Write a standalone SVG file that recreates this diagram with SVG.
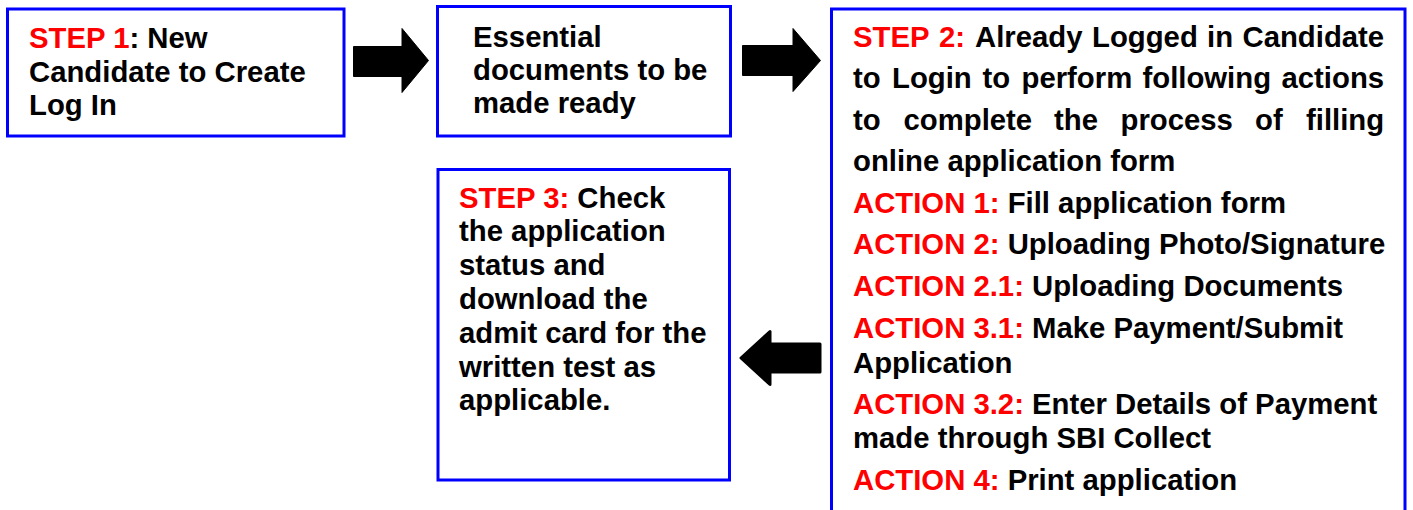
<svg xmlns="http://www.w3.org/2000/svg" width="1413" height="510" viewBox="0 0 1413 510">
<style>
.box{fill:#fff;stroke:#0000ff;stroke-width:3}
text{font-family:"Liberation Sans",Arial,sans-serif;font-weight:bold;font-size:29.3px;fill:#000}
.r{fill:#ff0000}
.arr{fill:#000;stroke:#000;stroke-width:1}
</style>
<rect width="1413" height="510" fill="#fff"/>
<g id="step1">
<rect class="box" x="7.5" y="9" width="336.5" height="127"/>
<text x="29" y="48"><tspan class="r">STEP 1</tspan>: New</text>
<text x="29" y="82">Candidate to Create</text>
<text x="29" y="115">Log In</text>
</g>
<g id="docs">
<rect class="box" x="437.5" y="6.5" width="293" height="129.5"/>
<text x="473" y="47">Essential</text>
<text x="473" y="80">documents to be</text>
<text x="473" y="113">made ready</text>
</g>
<g id="step2">
<rect class="box" x="831.5" y="9" width="573.5" height="520"/>
<text y="46.5"><tspan class="r" x="853">STEP</tspan><tspan class="r" x="939">2:</tspan><tspan x="975">Already</tspan><tspan x="1092">Logged</tspan><tspan x="1207">in</tspan><tspan x="1242.5">Candidate</tspan></text>
<text y="88"><tspan x="853">to</tspan><tspan x="892">Login</tspan><tspan x="982.5">to</tspan><tspan x="1021.5">perform</tspan><tspan x="1142.5">following</tspan><tspan x="1281.5">actions</tspan></text>
<text y="129.5"><tspan x="853">to</tspan><tspan x="903.5">complete</tspan><tspan x="1054">the</tspan><tspan x="1120.5">process</tspan><tspan x="1255">of</tspan><tspan x="1306">filling</tspan></text>
<text x="853" y="171">online application form</text>
<text x="853" y="212.5"><tspan class="r">ACTION 1:</tspan> Fill application form</text>
<text x="853" y="254"><tspan class="r">ACTION 2:</tspan> Uploading Photo/Signature</text>
<text x="853" y="296"><tspan class="r">ACTION 2.1:</tspan> Uploading Documents</text>
<text x="853" y="338"><tspan class="r">ACTION 3.1:</tspan> Make Payment/Submit</text>
<text x="853" y="373">Application</text>
<text x="853" y="414"><tspan class="r">ACTION 3.2:</tspan> Enter Details of Payment</text>
<text x="853" y="448">made through SBI Collect</text>
<text x="853" y="490"><tspan class="r">ACTION 4:</tspan> Print application</text>
</g>
<g id="step3">
<rect class="box" x="438" y="169.5" width="291.5" height="310.5"/>
<text x="459" y="207.5"><tspan class="r">STEP 3:</tspan> Check</text>
<text x="459" y="241">the application</text>
<text x="459" y="275">status and</text>
<text x="459" y="308.5">download the</text>
<text x="459" y="342.5">admit card for the</text>
<text x="459" y="376.5">written test as</text>
<text x="459" y="409.5">applicable.</text>
</g>
<g id="connectors">
<polygon class="arr" points="353.5,46.5 402,46.5 402,28.5 428.5,60.5 402,92.5 402,76.5 353.5,76.5"/>
<polygon class="arr" points="742.5,45.5 793,45.5 793,28.5 820.5,60.5 793,91.5 793,75.5 742.5,75.5"/>
<polygon points="741,358 770,331.5 770,344 820,344 820,372 770,372 770,384.5" fill="#000" stroke="#000" stroke-width="3" stroke-linejoin="round"/>
</g>
</svg>
